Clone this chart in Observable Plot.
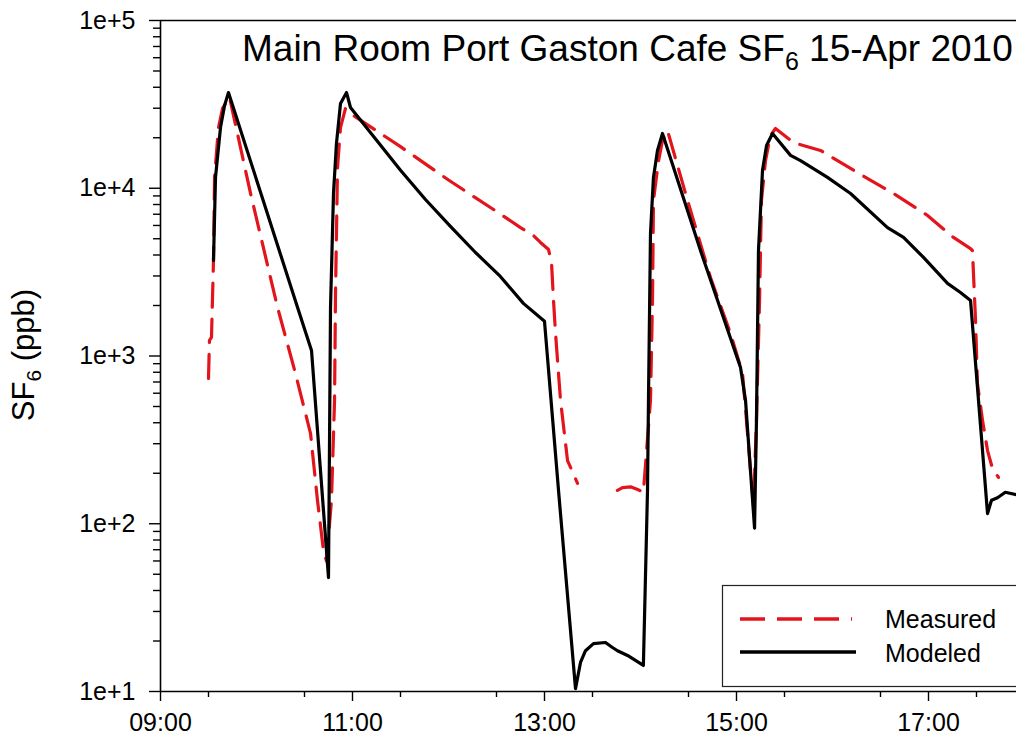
<!DOCTYPE html>
<html>
<head>
<meta charset="utf-8">
<script src="https://cdn.jsdelivr.net/npm/d3@7"></script>
<script src="https://cdn.jsdelivr.net/npm/@observablehq/plot@0.6"></script>
<style>
  body { margin: 0; background: #fff; }
  #chart { position: relative; width: 1016px; height: 742px; overflow: hidden; }
  svg { font-family: "Liberation Sans", Arial, sans-serif; }
</style>
</head>
<body>
<div id="chart"></div>
<script>
// ---- Data (time as decimal hours of the day, SF6 in ppb) ----
const modeledHour = [9.552, 9.573, 9.625, 9.667, 9.708, 10.063, 10.427, 10.573, 10.750, 10.771, 10.802, 10.833, 10.875, 10.938, 10.979, 11.500, 11.760, 12.020, 12.281, 12.540, 12.780, 13.000, 13.146, 13.323, 13.375, 13.427, 13.510, 13.635, 13.708, 13.760, 13.865, 14.030, 14.073, 14.083, 14.104, 14.135, 14.177, 14.229, 14.625, 15.042, 15.094, 15.188, 15.208, 15.229, 15.271, 15.313, 15.375, 15.563, 15.667, 15.948, 16.188, 16.573, 16.740, 16.948, 17.198, 17.333, 17.438, 17.615, 17.656, 17.719, 17.800, 17.917];
const modeledPpb  = [3710, 11600, 23000, 31100, 37200, 8690, 1950, 1080, 47.8, 1950, 9310, 18500, 32000, 37200, 30300, 12800, 8570, 5920, 4140, 2980, 2060, 1610, 158, 10.4, 14.9, 17.5, 19.3, 19.6, 18.3, 17.5, 16.4, 14.3, 158, 543, 5370, 11600, 16800, 21200, 4250, 853, 543, 94, 412, 4250, 12800, 18000, 21200, 15700, 14600, 11600, 9310, 5830, 5090, 3870, 2710, 2390, 2140, 115, 138, 143, 154, 149];

const measuredSegment = [1,1,1,1,1,1,1,1,1,1,1,1,1,1,1,1,1,1,1,1,1,1,1,1,1,1,1,1,1,1,1,1,1,1,1,1,1,
                         2,2,2,2,2,2,2,2,2,2,2,2,2,2,2,2,2,2,2,2,2,2,2,2,2,2,2,2,2,2,2,2,2,2,2,2,2,2];
const measuredHour = [9.500, 9.510, 9.531, 9.552, 9.563, 9.604, 9.646, 9.719, 9.938, 10.219, 10.406, 10.563, 10.635, 10.698, 10.729, 10.781, 10.813, 10.823, 10.844, 10.875, 10.927, 11.010, 11.500, 12.000, 12.500, 12.750, 12.885, 12.958, 13.042, 13.073, 13.094, 13.115, 13.167, 13.240, 13.344, 13.344, 13.344,
                      13.760, 13.813, 13.896, 13.970, 14.030, 14.104, 14.125, 14.135, 14.188, 14.229, 14.281, 14.490, 14.729, 14.938, 15.063, 15.104, 15.146, 15.177, 15.208, 15.240, 15.260, 15.302, 15.354, 15.406, 15.594, 15.875, 16.260, 16.635, 16.990, 17.260, 17.438, 17.458, 17.490, 17.510, 17.563, 17.615, 17.667, 17.729];
const measuredPpb  = [735, 1240, 1290, 3710, 11600, 23000, 29900, 34800, 9310, 1950, 787, 345, 138, 69, 60, 138, 543, 2360, 13300, 23000, 29900, 27100, 17700, 11200, 7270, 5830, 5230, 4750, 4310, 3610, 2140, 1360, 543, 238, 174, 174, 174,
                      158, 164, 166, 160, 154, 543, 2140, 8460, 14600, 19300, 22100, 8460, 2940, 1360, 787, 412, 208, 128, 412, 2140, 8460, 14600, 20600, 22700, 18700, 16800, 12400, 9310, 6880, 5090, 4370, 4250, 1630, 686, 412, 273, 213, 189];

const yTickValues = [10, 100, 1000, 10000, 100000];
const yTickLabels = ["1e+1", "1e+2", "1e+3", "1e+4", "1e+5"];
const xTickValues = [9, 11, 13, 15, 17];
const xTickLabels = ["09:00", "11:00", "13:00", "15:00", "17:00"];
const seriesNames = ["Measured", "Modeled"];
const titleMain = "Main Room Port Gaston Cafe SF";
const titleSub = "6";
const titleEnd = " 15-Apr 2010";

// ---- Derived tables ----
const modeled = modeledHour.map((h, i) => ({hour: h, ppb: modeledPpb[i]}));
const measured = measuredHour.map((h, i) => ({hour: h, ppb: measuredPpb[i], seg: measuredSegment[i]}));
const yMinor = [];
for (let e = 1; e < 5; e++) for (let k = 2; k <= 9; k++) yMinor.push(k * Math.pow(10, e));
const xMinor = [];
for (let h = 9.5; h <= 17.9; h += 1) xMinor.push(h);

const RED = "#e3141b";
const FONT = "Liberation Sans, Arial, sans-serif";

const plot = Plot.plot({
  width: 1016,
  height: 742,
  marginTop: 20,
  marginBottom: 51,
  marginLeft: 160,
  marginRight: 0,
  style: {fontFamily: FONT, background: "#fff", color: "#000", overflow: "visible"},
  x: {type: "linear", domain: [9, 9 + 856 / 96]},
  y: {type: "log", domain: [10, 100000]},
  marks: [
    Plot.ruleY([100000], {stroke: "#000", strokeWidth: 1.3}),
    Plot.axisY(yMinor, {tickSize: 7, tickFormat: () => "", label: null, strokeWidth: 1.4}),
    Plot.axisY(yTickValues, {tickSize: 11, tickPadding: 14, fontSize: 25, label: null, strokeWidth: 1.4,
      tickFormat: d => yTickLabels[yTickValues.indexOf(d)]}),
    Plot.axisX(xMinor, {tickSize: 6, tickFormat: () => "", label: null, strokeWidth: 1.4}),
    Plot.axisX(xTickValues, {tickSize: 10, tickPadding: 12, fontSize: 25, label: null, strokeWidth: 1.4,
      tickFormat: d => xTickLabels[xTickValues.indexOf(d)]}),
    Plot.ruleX([9], {stroke: "#000", strokeWidth: 1.6}),
    Plot.ruleY([10], {stroke: "#000", strokeWidth: 1.6}),
    Plot.line(measured, {x: "hour", y: "ppb", z: "seg", stroke: RED, strokeWidth: 3.2, strokeDasharray: "24,12", curve: "linear"}),
    Plot.line(modeled, {x: "hour", y: "ppb", stroke: "#000", strokeWidth: 3.2, curve: "linear"})
  ]
});

document.getElementById("chart").appendChild(plot);

// ---- Title, y label and legend added into the same SVG ----
const svg = d3.select(plot);
const t = svg.append("text").attr("x", 242).attr("y", 61).attr("text-anchor", "start")
  .attr("font-size", 37).attr("font-family", FONT).attr("fill", "#000");
t.append("tspan").text(titleMain);
t.append("tspan").attr("font-size", 25).attr("dy", 9).text(titleSub);
t.append("tspan").attr("dy", -9).text(titleEnd);

const yl = svg.append("text")
  .attr("transform", "translate(34,355) rotate(-90)")
  .attr("text-anchor", "middle").attr("font-size", 31).attr("font-family", FONT).attr("fill", "#000");
yl.append("tspan").text("SF");
yl.append("tspan").attr("font-size", 21).attr("dy", 7).text("6");
yl.append("tspan").attr("dy", -7).text(" (ppb)");

const lg = svg.append("g");
lg.append("rect").attr("x", 722.5).attr("y", 585.5).attr("width", 310).attr("height", 101)
  .attr("fill", "#fff").attr("stroke", "#222").attr("stroke-width", 1.2);
lg.append("line").attr("x1", 740).attr("x2", 852).attr("y1", 619).attr("y2", 619)
  .attr("stroke", RED).attr("stroke-width", 3.5).attr("stroke-dasharray", "25,12");
lg.append("line").attr("x1", 740).attr("x2", 856).attr("y1", 652).attr("y2", 652)
  .attr("stroke", "#000").attr("stroke-width", 3.5);
lg.append("text").attr("x", 885).attr("y", 628).attr("text-anchor", "start").attr("font-size", 25).attr("font-family", FONT).text(seriesNames[0]);
lg.append("text").attr("x", 885).attr("y", 662).attr("text-anchor", "start").attr("font-size", 25).attr("font-family", FONT).text(seriesNames[1]);
</script>
</body>
</html>
